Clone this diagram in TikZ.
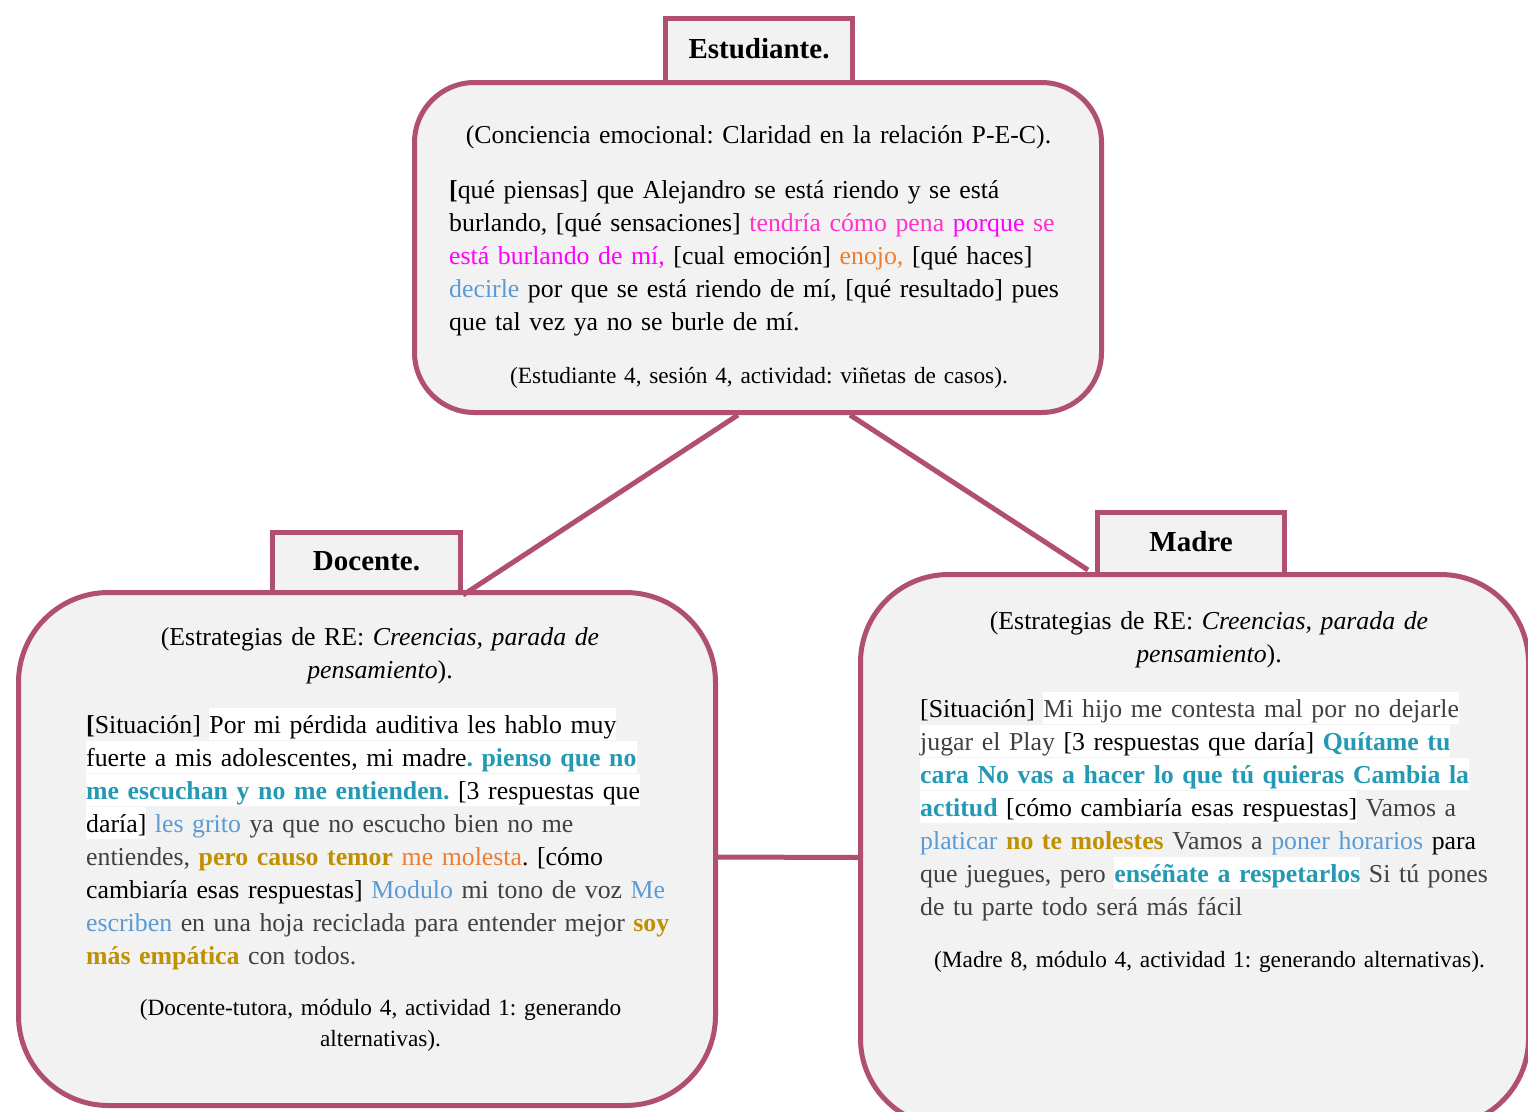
\documentclass[tikz,border=0pt]{standalone}
\usepackage{fontspec}
\setmainfont{Liberation Serif}
\usetikzlibrary{calc}
\frenchspacing

% palette
\definecolor{frame}{HTML}{B14F73}
\definecolor{panel}{HTML}{F2F2F2}
\definecolor{inkgray}{HTML}{404040}
\definecolor{tealtx}{HTML}{2399B3}
\definecolor{goldtx}{HTML}{BF9000}
\definecolor{bluetx}{HTML}{5B9BD5}
\definecolor{orangetx}{HTML}{ED7D31}
\definecolor{pinktx}{HTML}{FF33CC}
\definecolor{magtx}{HTML}{FF00FF}

% type sizes
\newcommand{\bodyfont}{\fontsize{25.8}{33}\selectfont}
\newcommand{\citefont}{\fontsize{23.3}{31}\selectfont}
\newcommand{\tabfont}{\fontsize{29}{34}\selectfont\bfseries}
\newcommand{\firstrow}{\rule{0pt}{25pt}}
\newcommand{\firstcite}{\rule{0pt}{22pt}}

% coloured runs of text
\newcommand{\hlw}[1]{{\setlength{\fboxsep}{0pt}\colorbox{white}{\rule[-7pt]{0pt}{32pt}#1}}}
\newcommand{\cteal}[1]{\textcolor{tealtx}{\bfseries #1}}
\newcommand{\cgold}[1]{\textcolor{goldtx}{\bfseries #1}}
\newcommand{\cblue}[1]{\textcolor{bluetx}{#1}}
\newcommand{\corange}[1]{\textcolor{orangetx}{#1}}
\newcommand{\cgray}[1]{\textcolor{inkgray}{#1}}
\newcommand{\cpink}[1]{\textcolor{pinktx}{#1}}
\newcommand{\cmag}[1]{\textcolor{magtx}{#1}}

\begin{document}
\begin{tikzpicture}[x=1pt,y=-1pt,
  panelbox/.style={draw=frame, line width=5pt, fill=panel, rounded corners=#1, inner sep=0pt},
  tabbox/.style={draw=frame, line width=5pt, fill=panel, inner sep=0pt,
    font=\tabfont, text height=20pt, text depth=5pt},
  bodytext/.style={inner sep=0pt, align=left, font=\bodyfont, text width=#1, anchor=north west},
  headtext/.style={inner sep=0pt, align=center, font=\bodyfont, text width=#1, anchor=north},
  citetext/.style={inner sep=0pt, align=center, font=\citefont, text width=#1, anchor=north},
  link/.style={draw=frame, line width=5pt}]

\useasboundingbox (0,0) rectangle (1528,1111);
\clip (0,0) rectangle (1528,1111);
\fill[white] (0,0) rectangle (1528,1111);

% ---- main panels
\node[panelbox=60pt, minimum width=687pt, minimum height=330pt] (est) at (758,247.5) {};
\node[panelbox=90pt, minimum width=697pt, minimum height=513pt] (doc) at (367,849) {};
\node[panelbox=88pt, minimum width=668pt, minimum height=552pt] (mad) at (1194.5,850.5) {};

% ---- title tabs
\node[tabbox, minimum width=187pt, minimum height=64pt] (estTab) at (759,50.5) {Estudiante.};
\node[tabbox, minimum width=188pt, minimum height=60pt] (docTab) at (366.5,562.5) {Docente.};
\node[tabbox, minimum width=187pt, minimum height=62pt] (madTab) at (1191,543.5) {Madre};

% ---- connectors
\draw[link] ([xshift=-20pt]est.south) -- (docTab.south east);
\draw[link] ([xshift=92pt]est.south) -- ([xshift=-7pt,yshift=7pt]madTab.south west);
\draw[link] ([yshift=-8pt]doc.east) -- ([yshift=-7pt]mad.west);

% ---- Estudiante
\node[headtext=680pt] (estHead) at (758.5,118)
  {\firstrow(Conciencia emocional: Claridad en la relación P-E-C).};
\node[bodytext=640pt] (estBody) at (449,173)
  {\firstrow\textbf{[}qué piensas] que Alejandro se está riendo y se está\\
   burlando, [qué sensaciones] \cpink{tendría cómo pena} \cmag{porque} \cpink{se}\\
   \cmag{está burlando de mí,} [cual emoción] \corange{enojo,} [qué haces]\\
   \cblue{decirle} por que se está riendo de mí, [qué resultado] pues\\
   que tal vez ya no se burle de mí.};
\node[citetext=640pt] (estCite) at (759,361)
  {\firstcite(Estudiante 4, sesión 4, actividad: viñetas de casos).};

% ---- Docente
\node[headtext=620pt] (docHead) at (380,620)
  {\firstrow(Estrategias de RE: \textit{Creencias, parada de}\\ \textit{pensamiento}).};
\node[bodytext=640pt] (docBody) at (86,708)
  {\firstrow\textbf{[}Situación] \hlw{Por mi pérdida auditiva les hablo muy}\\
   \hlw{fuerte a mis adolescentes, mi madre\cteal{. pienso que no}}\\
   \hlw{\cteal{me escuchan y no me entienden.} [3 respuestas que}\\
   \hlw{daría]} \cblue{les grito} \cgray{ya que no escucho bien no me}\\
   \cgray{entiendes,} \cgold{pero causo temor} \corange{me molesta}. [cómo\\
   cambiaría esas respuestas] \cblue{Modulo} \cgray{mi tono de voz} \cblue{Me}\\
   \cblue{escriben} \cgray{en una hoja reciclada para entender mejor} \cgold{soy}\\
   \cgold{más empática} \cgray{con todos.}};
\node[citetext=620pt] (docCite) at (380.5,993)
  {\firstcite(Docente-tutora, módulo 4, actividad 1: generando\\ alternativas).};

% ---- Madre
\node[headtext=620pt] (madHead) at (1209,604)
  {\firstrow(Estrategias de RE: \textit{Creencias, parada de}\\ \textit{pensamiento}).};
\node[bodytext=600pt] (madBody) at (920,692)
  {\firstrow[Situación] \hlw{\cgray{Mi hijo me contesta mal por no dejarle}}\\
   \hlw{\cgray{jugar el Play} [3 respuestas que daría] \cteal{Quítame tu}}\\
   \hlw{\cteal{cara No vas a hacer lo que tú quieras Cambia la}}\\
   \hlw{\cteal{actitud} [cómo cambiaría esas respuestas]} \cgray{Vamos a}\\
   \cblue{platicar} \cgold{no te molestes} \cgray{Vamos a} \cblue{poner horarios} para\\
   \cgray{que juegues, pero} \hlw{\cteal{enséñate a respetarlos}} \cgray{Si tú pones}\\
   \cgray{de tu parte todo será más fácil}};
\node[citetext=620pt] (madCite) at (1209.5,945)
  {\firstcite(Madre 8, módulo 4, actividad 1: generando alternativas).};
\end{tikzpicture}
\end{document}
